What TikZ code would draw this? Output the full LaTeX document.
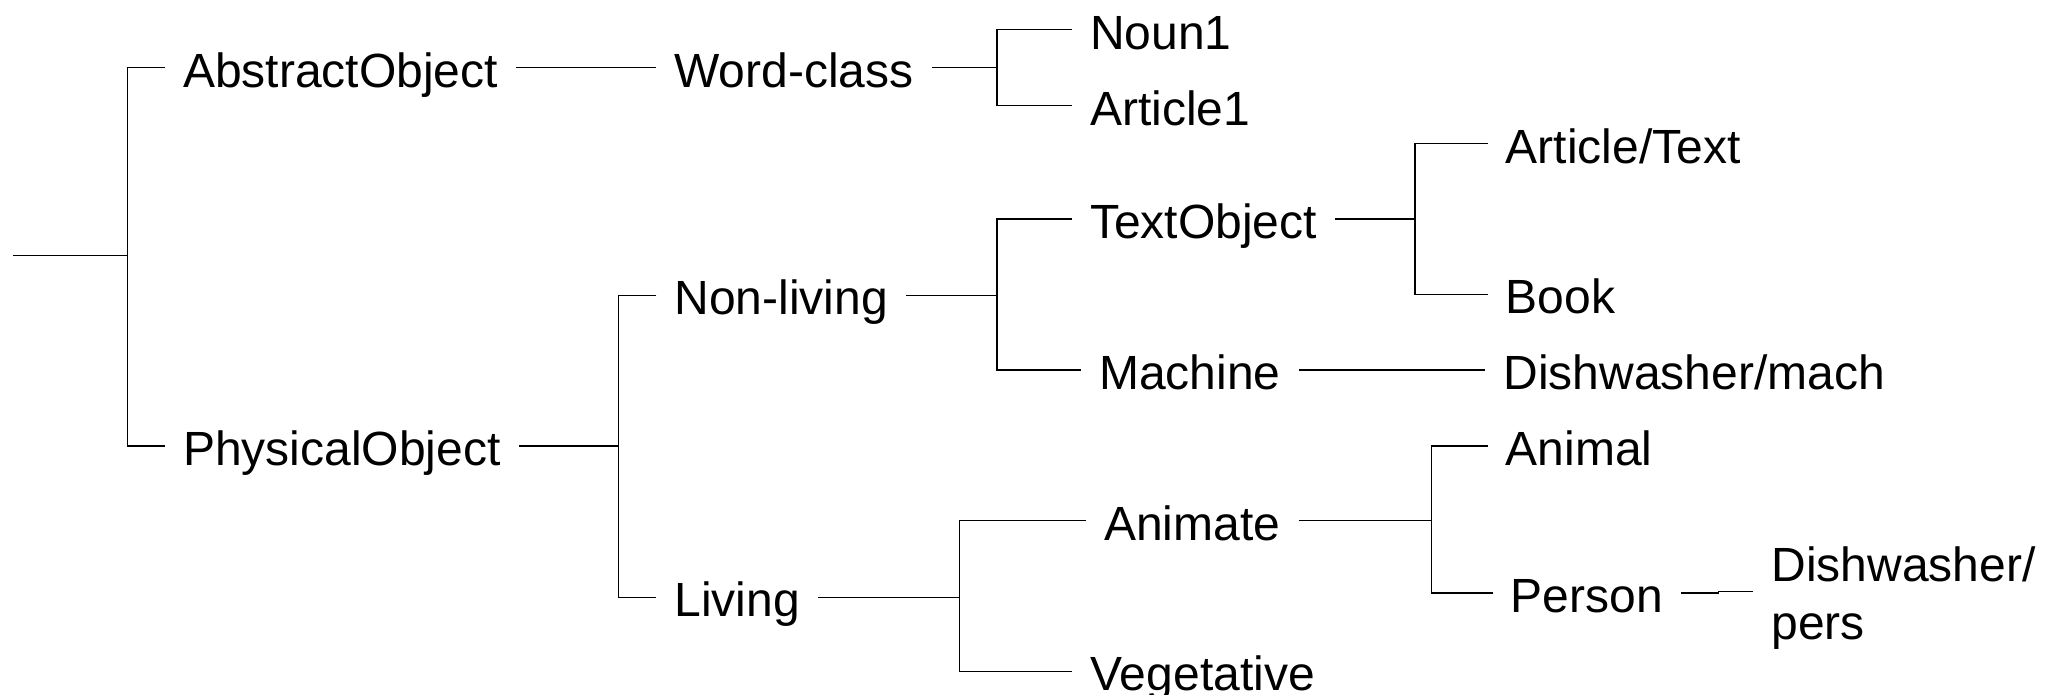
\documentclass[tikz,border=0pt]{standalone}
\usepackage{fontspec}
\setmainfont{Liberation Sans}
\begin{document}
\begin{tikzpicture}[x=1pt,y=-1pt,
  lbl/.style={font=\fontsize{48}{57.6}\selectfont, inner xsep=18pt, inner ysep=0pt,
              text height=39pt, text depth=0pt, anchor=west},
  twoline/.style={font=\fontsize{48}{57.6}\selectfont, inner xsep=18pt, inner ysep=0pt,
              align=left, anchor=base west},
  link/.style={line width=1.2pt, black}]
\useasboundingbox (0,0) rectangle (2054,694);

% junction points of the hierarchy
\coordinate (root) at (13.4,255.8);
\coordinate (j0) at (127.2,255.8);
\coordinate (j1) at (618.3,446);
\coordinate (j2) at (997,67.7);
\coordinate (j3) at (997,295.1);
\coordinate (j4) at (959.2,597.3);
\coordinate (j5) at (1415,219);
\coordinate (j6) at (1431.6,520.8);
\coordinate (jp) at (1718.8,593);

% concept labels
\node[lbl] (abs) at (165,67.7) {AbstractObject};
\node[lbl] (phys) at (165,446) {PhysicalObject};
\node[lbl] (wc) at (656.3,67.7) {Word-class};
\node[lbl] (nonl) at (656.3,295.1) {Non-living};
\node[lbl] (liv) at (656.3,597.3) {Living};
\node[lbl] (noun) at (1072,29.6) {Noun1};
\node[lbl] (art1) at (1072,105.8) {Article1};
\node[lbl] (txt) at (1072,219) {TextObject};
\node[lbl] (mach) at (1081,370) {Machine};
\node[lbl] (anim) at (1086,520.8) {Animate};
\node[lbl] (veg) at (1072.4,671.2) {Vegetative};
\node[lbl] (artt) at (1487.5,143.8) {Article/Text};
\node[lbl] (book) at (1487.5,294.2) {Book};
\node[lbl] (dwm) at (1485.4,370) {Dishwasher/mach};
\node[lbl] (animal) at (1487.5,446) {Animal};
\node[lbl] (pers) at (1492.5,593) {Person};
% base anchor of a two-line node sits on its last line
\node[twoline] (dwp) at (1753.3,639.4) {Dishwasher/\\pers};

% connectors
\draw[link] (root) -- (j0);
\draw[link] (abs.west) -| (j0) |- (phys.west);
\draw[link] (abs.east) -- (wc.west);
\draw[link] (phys.east) -- (j1);
\draw[link] (nonl.west) -| (j1) |- (liv.west);
\draw[link] (wc.east) -- (j2);
\draw[link] (noun.west) -| (j2) |- (art1.west);
\draw[link] (nonl.east) -- (j3);
\draw[link] (txt.west) -| (j3) |- (mach.west);
\draw[link] (liv.east) -- (j4);
\draw[link] (anim.west) -| (j4) |- (veg.west);
\draw[link] (txt.east) -- (j5);
\draw[link] (artt.west) -| (j5) |- (book.west);
\draw[link] (mach.east) -- (dwm.west);
\draw[link] (anim.east) -- (j6);
\draw[link] (animal.west) -| (j6) |- (pers.west);
\draw[link] (pers.east) -- (jp) |- ([yshift=47.8pt]dwp.base west);
\end{tikzpicture}
\end{document}
